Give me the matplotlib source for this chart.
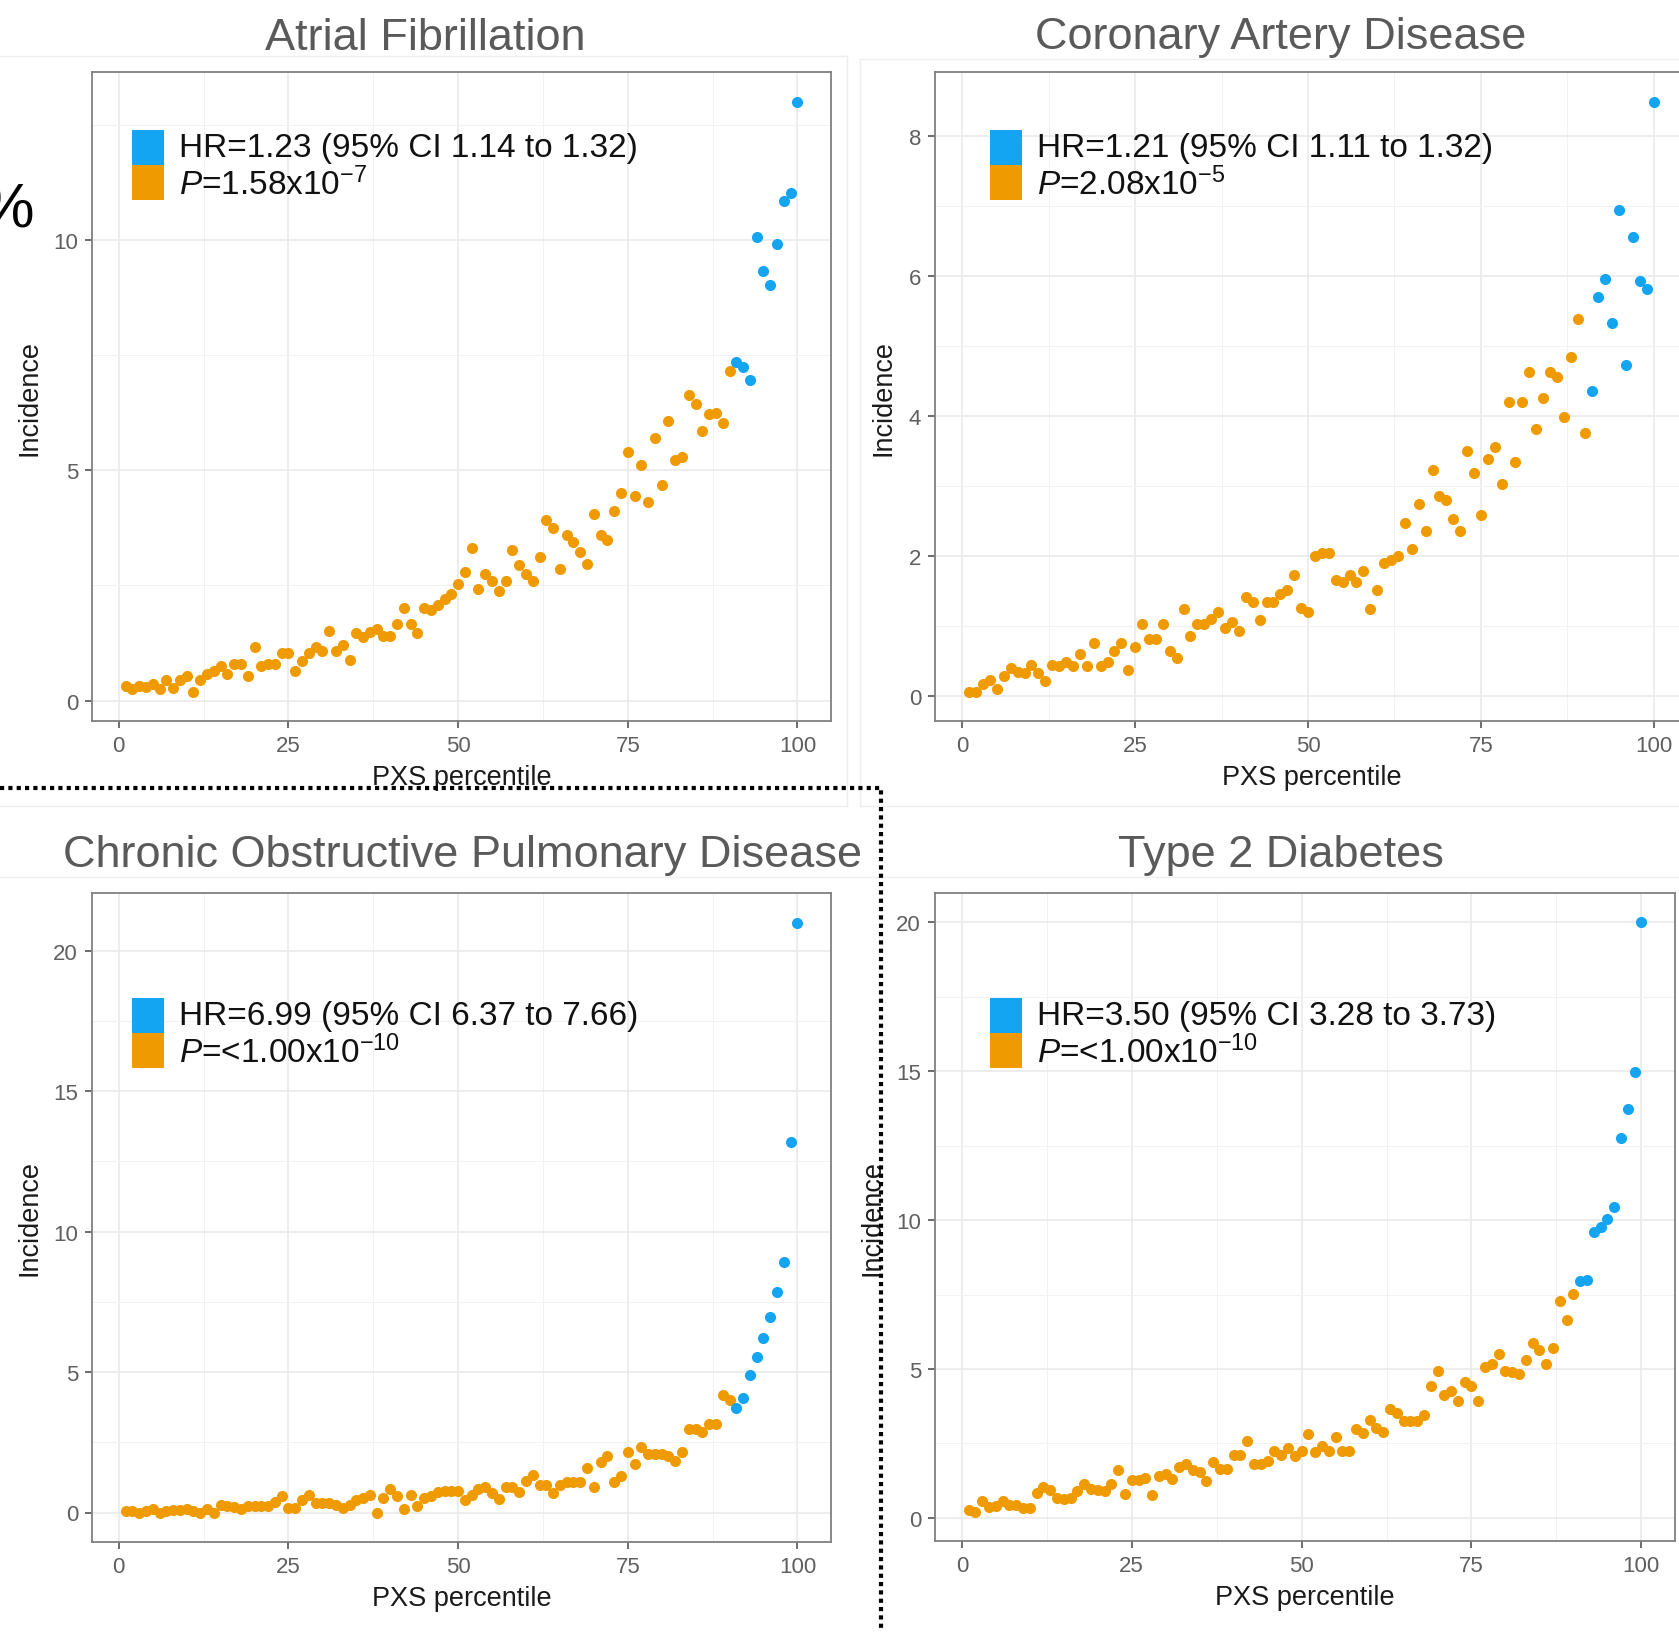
import numpy as np
import matplotlib
matplotlib.use("Agg")
import matplotlib.pyplot as plt
from matplotlib.ticker import MultipleLocator
from matplotlib.lines import Line2D
from matplotlib.patches import Rectangle

plt.rcParams["font.family"] = ["Liberation Sans", "DejaVu Sans"]
plt.rcParams["mathtext.fontset"] = "custom"
plt.rcParams["mathtext.rm"] = "Liberation Sans"
plt.rcParams["mathtext.it"] = "Liberation Sans:italic"

W, H, DPI = 1679, 1633, 100
BLUE = "#13A4F2"
ORANGE = "#EF9B00"

# ---------------------------------------------------------------------------
# Data
# ---------------------------------------------------------------------------
percentile = np.arange(1, 101)
top_decile_from = 91

af_incidence = [
    0.31, 0.25, 0.31, 0.29, 0.36, 0.25, 0.44, 0.28, 0.44, 0.53,
    0.20, 0.44, 0.58, 0.64, 0.75, 0.58, 0.80, 0.80, 0.53, 1.17,
    0.75, 0.80, 0.80, 1.03, 1.03, 0.64, 0.86, 1.03, 1.17, 1.08,
    1.52, 1.08, 1.21, 0.89, 1.47, 1.39, 1.50, 1.55, 1.41, 1.41,
    1.66, 2.02, 1.66, 1.47, 2.02, 1.96, 2.08, 2.21, 2.32, 2.54,
    2.79, 3.32, 2.43, 2.74, 2.60, 2.38, 2.59, 3.27, 2.94, 2.76,
    2.60, 3.11, 3.91, 3.75, 2.85, 3.59, 3.44, 3.22, 2.96, 4.06,
    3.60, 3.49, 4.12, 4.50, 5.39, 4.45, 5.11, 4.32, 5.70, 4.69,
    6.07, 5.22, 5.28, 6.63, 6.43, 5.85, 6.21, 6.25, 6.03, 7.15,
    7.34, 7.24, 6.95, 10.06, 9.33, 9.01, 9.91, 10.84, 11.02, 13.00,
]
cad_incidence = [
    0.06, 0.06, 0.17, 0.23, 0.10, 0.28, 0.39, 0.34, 0.32, 0.44,
    0.32, 0.21, 0.44, 0.43, 0.48, 0.42, 0.59, 0.43, 0.76, 0.43,
    0.48, 0.64, 0.76, 0.37, 0.70, 1.03, 0.81, 0.81, 1.03, 0.64,
    0.54, 1.24, 0.86, 1.03, 1.03, 1.10, 1.19, 0.97, 1.05, 0.92,
    1.41, 1.34, 1.08, 1.34, 1.34, 1.46, 1.51, 1.72, 1.25, 1.19,
    1.99, 2.04, 2.04, 1.66, 1.62, 1.73, 1.62, 1.78, 1.24, 1.51,
    1.89, 1.94, 1.99, 2.47, 2.10, 2.74, 2.36, 3.23, 2.86, 2.80,
    2.53, 2.36, 3.49, 3.18, 2.58, 3.38, 3.55, 3.02, 4.20, 3.34,
    4.20, 4.62, 3.81, 4.25, 4.62, 4.56, 3.98, 4.84, 5.38, 3.76,
    4.36, 5.70, 5.96, 5.32, 6.94, 4.73, 6.55, 5.92, 5.81, 8.49,
]
copd_incidence = [
    0.05, 0.05, 0.00, 0.05, 0.13, 0.00, 0.05, 0.10, 0.10, 0.14,
    0.05, 0.00, 0.14, 0.00, 0.28, 0.22, 0.19, 0.13, 0.22, 0.22,
    0.22, 0.22, 0.37, 0.58, 0.17, 0.15, 0.46, 0.64, 0.34, 0.34,
    0.34, 0.28, 0.17, 0.28, 0.46, 0.52, 0.64, 0.00, 0.52, 0.82,
    0.58, 0.13, 0.64, 0.22, 0.52, 0.58, 0.72, 0.76, 0.76, 0.76,
    0.46, 0.64, 0.82, 0.90, 0.71, 0.48, 0.89, 0.89, 0.74, 1.13,
    1.33, 0.99, 0.99, 0.69, 0.99, 1.10, 1.10, 1.10, 1.58, 0.89,
    1.81, 2.02, 1.07, 1.31, 2.14, 1.73, 2.32, 2.08, 2.08, 2.08,
    2.02, 1.85, 2.14, 2.98, 2.98, 2.86, 3.15, 3.15, 4.19, 4.01,
    3.71, 4.08, 4.90, 5.54, 6.21, 6.95, 7.85, 8.90, 13.20, 21.00,
]
t2d_incidence = [
    0.27, 0.21, 0.57, 0.36, 0.39, 0.57, 0.44, 0.44, 0.32, 0.32,
    0.84, 1.03, 0.94, 0.66, 0.62, 0.66, 0.89, 1.12, 0.98, 0.94,
    0.89, 1.12, 1.60, 0.80, 1.28, 1.28, 1.33, 0.76, 1.42, 1.48,
    1.30, 1.72, 1.81, 1.60, 1.55, 1.24, 1.87, 1.65, 1.65, 2.10,
    2.10, 2.58, 1.81, 1.81, 1.90, 2.26, 2.12, 2.36, 2.08, 2.26,
    2.81, 2.22, 2.40, 2.26, 2.70, 2.26, 2.26, 2.97, 2.84, 3.29,
    3.02, 2.88, 3.64, 3.52, 3.25, 3.24, 3.25, 3.47, 4.44, 4.92,
    4.12, 4.27, 3.91, 4.57, 4.44, 3.91, 5.07, 5.16, 5.51, 4.94,
    4.89, 4.84, 5.30, 5.87, 5.65, 5.16, 5.69, 7.29, 6.63, 7.52,
    7.95, 8.00, 9.60, 9.78, 10.04, 10.45, 12.75, 13.72, 14.99, 20.00,
]

titles = ["Atrial Fibrillation", "Coronary Artery Disease",
          "Chronic Obstructive Pulmonary Disease", "Type 2 Diabetes"]
hr_labels = ["HR=1.23 (95% CI 1.14 to 1.32)", "HR=1.21 (95% CI 1.11 to 1.32)",
             "HR=6.99 (95% CI 6.37 to 7.66)", "HR=3.50 (95% CI 3.28 to 3.73)"]
p_labels = [r"$\mathit{P}$=1.58x$10^{-7}$", r"$\mathit{P}$=2.08x$10^{-5}$",
            r"$\mathit{P}$=<1.00x$10^{-10}$", r"$\mathit{P}$=<1.00x$10^{-10}$"]
y_step = [5, 2, 5, 5]


def fx(px):
    return px / W


def fy(py):
    return 1 - py / H


def fig_box(l, t, r, b):
    return [l / W, 1 - b / H, (r - l) / W, (b - t) / H]


fig = plt.figure(figsize=(W / DPI, H / DPI), dpi=DPI, facecolor="white")

# faint screenshot panel borders
for xs, ys in [((0, 847), (57, 57)), ((860, W), (60, 60)),
               ((0, 847), (807, 807)), ((860, W), (807, 807)),
               ((0, W), (878, 878)), ((847, 847), (57, 807)), ((860, 860), (60, 807))]:
    fig.add_artist(Line2D([fx(x) for x in xs], [fy(y) for y in ys],
                          transform=fig.transFigure, color="#eeeeee", lw=1))

# pixel layout of each panel: axes box, title centre, legend corner, label offsets
layout = [
    dict(box=(92, 73, 831, 722), title=(425, 38), legend=(132, 131), ylab_x=-0.085, xlab_y=-0.087),
    dict(box=(935, 73, 1688, 722), title=(1281, 38), legend=(990, 131), ylab_x=-0.068, xlab_y=-0.087),
    dict(box=(92, 894, 831, 1543), title=(463, 856), legend=(132, 999), ylab_x=-0.085, xlab_y=-0.086),
    dict(box=(935, 894, 1675, 1542), title=(1281, 856), legend=(990, 999), ylab_x=-0.084, xlab_y=-0.087),
]
series = [af_incidence, cad_incidence, copd_incidence, t2d_incidence]

for i, (cfg, values) in enumerate(zip(layout, series)):
    ax = fig.add_axes(fig_box(*cfg["box"]))
    y = np.asarray(values)
    low = percentile < top_decile_from
    ax.scatter(percentile[low], y[low], s=64, color=ORANGE, lw=0, zorder=3)
    ax.scatter(percentile[~low], y[~low], s=64, color=BLUE, lw=0, zorder=3)
    ax.margins(0.05)

    ax.xaxis.set_major_locator(MultipleLocator(25))
    ax.xaxis.set_minor_locator(MultipleLocator(12.5))
    ax.yaxis.set_major_locator(MultipleLocator(y_step[i]))
    ax.yaxis.set_minor_locator(MultipleLocator(y_step[i] / 2))
    ax.grid(which="major", color="#e8e8e8", lw=1.1)
    ax.grid(which="minor", color="#f2f2f2", lw=0.7)
    ax.set_axisbelow(True)
    ax.tick_params(which="major", length=5, width=1.1, color="#444444",
                   labelsize=16, labelcolor="#5f5f5f", pad=5)
    ax.tick_params(which="minor", length=0)
    for sp in ax.spines.values():
        sp.set_color("#808080")
        sp.set_linewidth(1.3)

    ax.set_xlabel("PXS percentile", fontsize=19.5, color="#1a1a1a", va="center")
    ax.xaxis.set_label_coords(0.5, cfg["xlab_y"])
    ax.set_ylabel("Incidence", fontsize=19.5, color="#1a1a1a", va="center")
    ax.yaxis.set_label_coords(cfg["ylab_x"], 0.5)

    tx, ty = cfg["title"]
    fig.text(fx(tx), fy(ty), titles[i], ha="center", va="center",
             fontsize=32.5, color="#5a5a5a")

    lx, lt = cfg["legend"]
    fig.add_artist(Rectangle((fx(lx), fy(lt + 35)), 32 / W, 35 / H,
                             transform=fig.transFigure, color=BLUE, lw=0))
    fig.add_artist(Rectangle((fx(lx), fy(lt + 70)), 32 / W, 35 / H,
                             transform=fig.transFigure, color=ORANGE, lw=0))
    fig.text(fx(lx + 47), fy(lt + 18), hr_labels[i], va="center", fontsize=24, color="#111111")
    fig.text(fx(lx + 47), fy(lt + 54), p_labels[i], va="center", fontsize=24, color="#111111")

# clipped "%" from neighbouring slide content
fig.text(fx(34), fy(228), "%", ha="right", va="baseline", fontsize=45, color="black")

# dotted highlight box
fig.add_artist(Line2D([0, fx(881), fx(881)], [fy(789), fy(789), 0],
                      transform=fig.transFigure, color="black", lw=3.0,
                      linestyle=(0, (1, 1.0)), dash_capstyle="butt", zorder=10))

fig.savefig("out.png", dpi=DPI, facecolor="white")
